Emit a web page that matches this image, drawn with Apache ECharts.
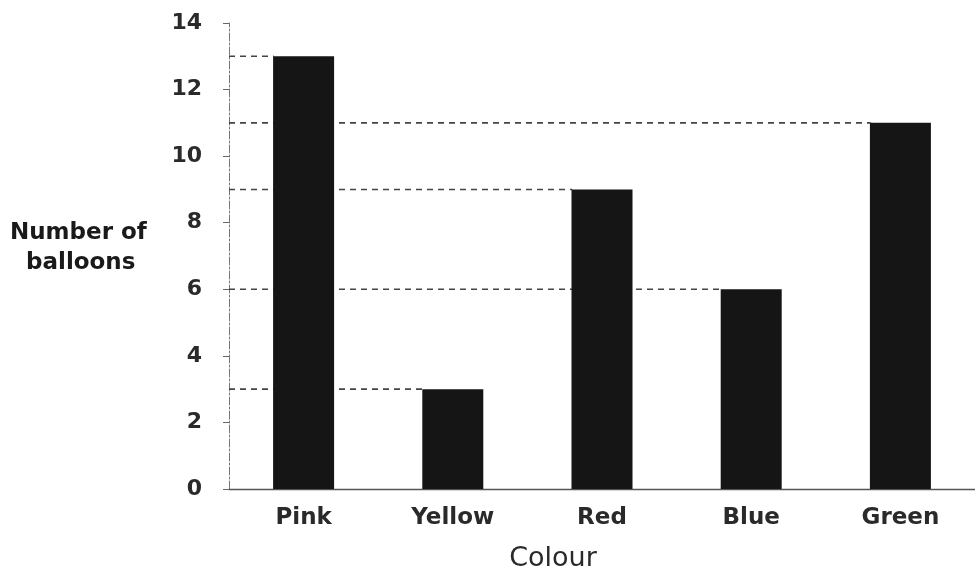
<!DOCTYPE html>
<html><head><meta charset="utf-8">
<script src="https://cdn.jsdelivr.net/npm/echarts@6/dist/echarts.min.js"></script>
<style>html,body{margin:0;padding:0;background:#fff}#c{width:975px;height:576px}</style>
</head><body><div id="c"></div>
<script>
var categories = ['Pink', 'Yellow', 'Red', 'Blue', 'Green'];
var values = [13, 3, 9, 6, 11];
var yTicks = [0, 2, 4, 6, 8, 10, 12, 14];

var chart = echarts.init(document.getElementById('c'));
var barHalf = 0.2; // half bar width in category units
var FONT = '"DejaVu Sans", Arial, sans-serif';
var guideSeries = values.map(function (v, i) {
  return {
    type: 'line', xAxisIndex: 1, yAxisIndex: 0, z: 1,
    symbol: 'none', silent: true,
    lineStyle: { color: '#444', width: 1.6, type: [6, 5] },
    data: [[0, v], [i + 0.5 - barHalf, v]]
  };
});
chart.setOption({
  animation: false,
  backgroundColor: '#fff',
  grid: { left: 229, top: 23, width: 755, height: 466, containLabel: false },
  xAxis: [{
    type: 'category', data: categories,
    axisLine: { show: true, lineStyle: { color: '#555', width: 1.4 } },
    axisTick: { show: false },
    axisLabel: { color: '#2a2a2a', fontSize: 23, fontWeight: 'bold', fontFamily: FONT, margin: 18 }
  }, {
    type: 'value', min: 0, max: 5, show: false
  }],
  yAxis: {
    type: 'value', min: yTicks[0], max: yTicks[yTicks.length - 1], interval: 2,
    axisLine: { show: true, lineStyle: { color: '#777', width: 1, type: [8, 2, 2, 2] } },
    axisTick: { show: true, length: 6, lineStyle: { color: '#666' } },
    splitLine: { show: false },
    axisLabel: { color: '#2a2a2a', fontSize: 22, fontWeight: 'bold', fontFamily: FONT, margin: 27 }
  },
  graphic: [{
    type: 'text', left: 10, top: 218,
    style: { text: 'Number of\n  balloons', fill: '#1a1a1a', font: 'bold 23px "DejaVu Sans", Arial, sans-serif', lineHeight: 30 }
  }, {
    type: 'text', x: 553, y: 559,
    style: { text: 'Colour', fill: '#2a2a2a', font: '27px "DejaVu Sans", Arial, sans-serif', textAlign: 'center', textVerticalAlign: 'middle' }
  }],
  series: guideSeries.concat([{
    type: 'bar', data: values, barWidth: 61, z: 3,
    itemStyle: { color: '#151515' }
  }])
});
</script></body></html>
